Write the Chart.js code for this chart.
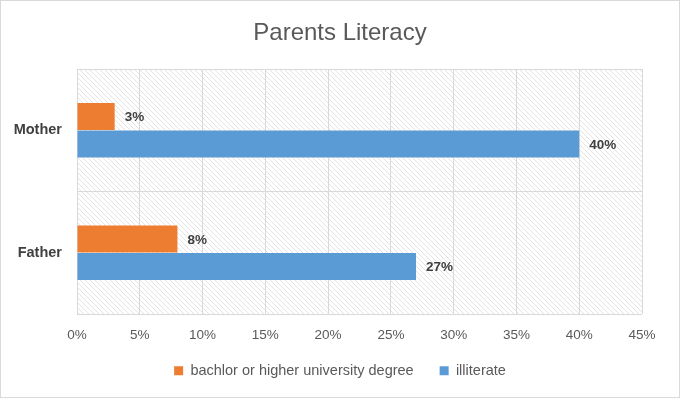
<!DOCTYPE html>
<html>
<head>
<meta charset="utf-8">
<script src="https://cdn.jsdelivr.net/npm/chart.js@4"></script>
<style>
  html, body { margin: 0; padding: 0; background: #fff; }
  #wrap { width: 680px; height: 398px; box-sizing: border-box; border: 1px solid #d9d9d9; }
  #chart { display: block; }
</style>
</head>
<body>
<div id="wrap"><canvas id="chart" width="678" height="396"></canvas></div>
<script>
const categories = ['Mother', 'Father'];
const degree = [3, 8];
const illiterate = [40, 27];
const seriesNames = ['bachlor or higher university degree', 'illiterate'];

const FONT = "'Liberation Sans', Arial, sans-serif";

function hatchPattern(ctx) {
  const s = 5;
  const c = document.createElement('canvas');
  c.width = s; c.height = s;
  const p = c.getContext('2d');
  p.fillStyle = '#fff';
  p.fillRect(0, 0, s, s);
  p.strokeStyle = 'rgba(0,0,0,0.11)';
  p.lineWidth = 1;
  p.beginPath();
  p.moveTo(0, 0); p.lineTo(s, s);
  p.moveTo(-1, s - 1); p.lineTo(1, s + 1);
  p.moveTo(s - 1, -1); p.lineTo(s + 1, 1);
  p.stroke();
  return ctx.createPattern(c, 'repeat');
}

const backgroundHatch = {
  id: 'backgroundHatch',
  beforeDraw(chart) {
    const { ctx, chartArea: a } = chart;
    ctx.save();
    ctx.fillStyle = hatchPattern(ctx);
    ctx.fillRect(a.left, a.top, a.right - a.left, a.bottom - a.top);
    ctx.restore();
  }
};

// title and legend centred on the whole canvas, legend pulled up a bit
const shiftBoxes = {
  id: 'shiftBoxes',
  afterLayout(chart) {
    const t = chart.titleBlock, l = chart.legend;
    if (t) { t.left += 18.5; t.right += 18.5; }
    if (l) { l.left += 18.5; l.right += 18.5; l.top -= 9; l.bottom -= 9; }
  }
};

const valueLabels = {
  id: 'valueLabels',
  afterDatasetsDraw(chart) {
    const { ctx } = chart;
    ctx.save();
    ctx.font = 'bold 13.5px ' + FONT;
    ctx.fillStyle = '#404040';
    ctx.textBaseline = 'middle';
    chart.data.datasets.forEach((ds, i) => {
      chart.getDatasetMeta(i).data.forEach((bar, j) => {
        ctx.fillText(ds.data[j] + '%', bar.x + 10, bar.y + 1);
      });
    });
    ctx.restore();
  }
};

new Chart(document.getElementById('chart'), {
  type: 'bar',
  data: {
    labels: categories,
    datasets: [
      { label: seriesNames[0], data: degree, backgroundColor: '#ED7D31' },
      { label: seriesNames[1], data: illiterate, backgroundColor: '#5B9BD5' }
    ]
  },
  options: {
    indexAxis: 'y',
    responsive: false,
    animation: false,
    categoryPercentage: 0.45,
    barPercentage: 0.98,
    layout: { padding: { top: 17.6, right: 37, bottom: 0, left: 0 } },
    plugins: {
      title: {
        display: true,
        text: 'Parents Literacy',
        color: '#595959',
        font: { family: FONT, size: 24, weight: 'normal', lineHeight: 1.2 },
        padding: { top: 0, bottom: 21.6 }
      },
      legend: {
        position: 'bottom',
        labels: {
          color: '#595959',
          font: { family: FONT, size: 14.5 },
          boxWidth: 9,
          boxHeight: 9,
          padding: 26
        }
      },
      tooltip: { enabled: false }
    },
    scales: {
      x: {
        min: 0,
        max: 45,
        ticks: {
          stepSize: 5,
          color: '#595959',
          font: { family: FONT, size: 13.5 },
          padding: 13,
          callback: v => v + '%'
        },
        grid: { color: '#d9d9d9', drawTicks: false },
        border: { display: false },
        afterFit(scale) { scale.height = 32.5; }
      },
      y: {
        ticks: {
          color: '#404040',
          font: { family: FONT, size: 14.5, weight: 'bold' },
          padding: 15
        },
        grid: { color: '#d9d9d9', drawTicks: false, offset: true },
        border: { display: false },
        afterFit(scale) { scale.width = 76; }
      }
    }
  },
  plugins: [backgroundHatch, shiftBoxes, valueLabels]
});
</script>
</body>
</html>
